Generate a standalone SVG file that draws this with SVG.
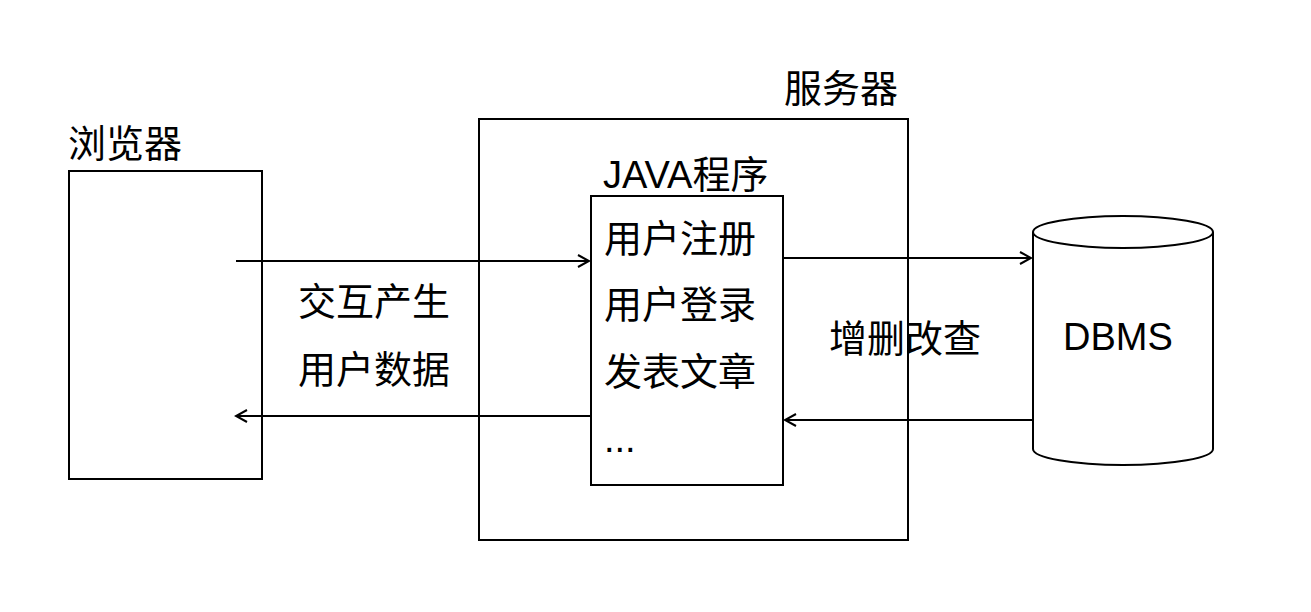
<svg xmlns="http://www.w3.org/2000/svg" width="1311" height="612" viewBox="0 0 1311 612">
<style>
.b{fill:none;stroke:#000;stroke-width:2}
.t{font-family:"Liberation Sans","Noto Sans CJK SC",sans-serif;font-size:38px;fill:#000}
.l{stroke:#000;stroke-width:2;fill:none}
</style>
<defs><marker id="a" markerWidth="14" markerHeight="14" refX="12" refY="7" orient="auto" markerUnits="userSpaceOnUse"><path d="M1,1 L12,7 L1,13" fill="none" stroke="#000" stroke-width="2"/></marker></defs>
<rect width="1311" height="612" fill="#fff"/>
<g id="browser"><rect class="b" x="69" y="171" width="193" height="308"/><text class="t" x="68" y="157">浏览器</text></g>
<g id="server"><rect class="b" x="479" y="119" width="429" height="421"/><text class="t" x="784" y="102">服务器</text></g>
<g id="java"><rect class="b" x="591" y="196" width="192" height="289"/><text class="t" x="603" y="188">JAVA程序</text>
<text class="t" x="604" y="252">用户注册</text><text class="t" x="604" y="318">用户登录</text><text class="t" x="604" y="385">发表文章</text><text class="t" x="604" y="452">...</text></g>
<g id="dbms"><path class="b" d="M1033,232 V449 A90,16 0 0 0 1213,449 V232"/><ellipse class="b" cx="1123" cy="232" rx="90" ry="16"/><text class="t" x="1063" y="350">DBMS</text></g>
<g id="connectors">
<line class="l" x1="236" y1="261" x2="589" y2="261" marker-end="url(#a)"/>
<line class="l" x1="591" y1="416" x2="236" y2="416" marker-end="url(#a)"/>
<line class="l" x1="783" y1="258" x2="1031" y2="258" marker-end="url(#a)"/>
<line class="l" x1="1033" y1="420" x2="785" y2="420" marker-end="url(#a)"/>
</g>
<g id="labels"><text class="t" x="298" y="315">交互产生</text><text class="t" x="298" y="383">用户数据</text><text class="t" x="829" y="352">增删改查</text></g>
</svg>
